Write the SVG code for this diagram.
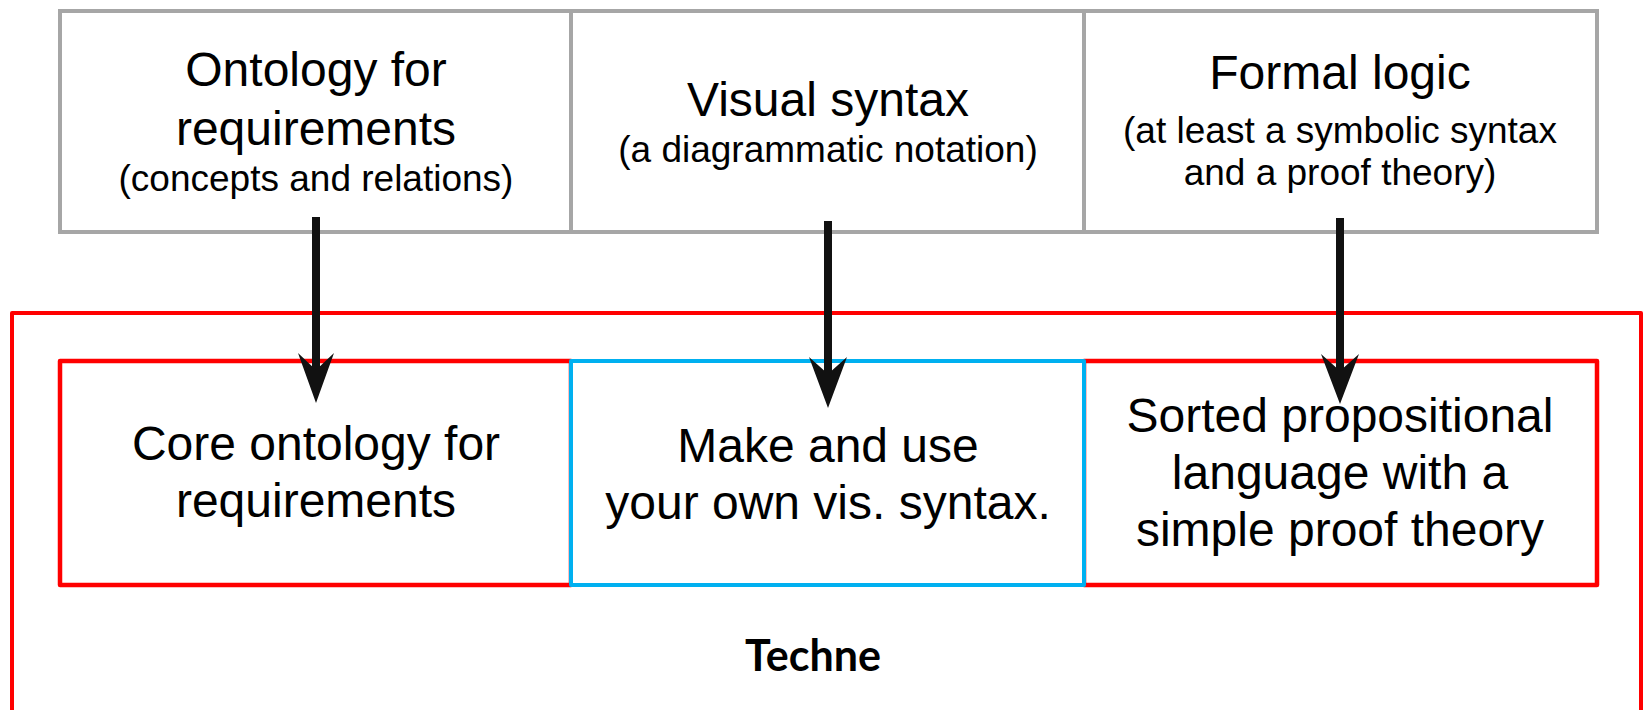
<svg xmlns="http://www.w3.org/2000/svg" width="1643" height="710" viewBox="0 0 1643 710">
  <defs>
    <style>
      .grey { fill: #ffffff; stroke: #a6a6a6; stroke-width: 4; }
      .red { fill: #ffffff; stroke: #ff0000; stroke-width: 4.5; stroke-linejoin: round; }
      .blue { fill: #ffffff; stroke: #00b0f0; stroke-width: 4; stroke-linejoin: round; }
      .big { font-family: "Liberation Sans", Arial, sans-serif; font-size: 48px; fill: #000; text-anchor: middle; }
      .small { font-family: "Liberation Sans", Arial, sans-serif; font-size: 37px; fill: #000; text-anchor: middle; }
      .label { font-family: Lato, "Open Sans", sans-serif; font-weight: bold; font-size: 43px; fill: #000; text-anchor: middle; }
      .shaft { stroke: #111111; stroke-width: 8; fill: none; }
      .head { fill: #111111; }
    </style>
  </defs>

  <!-- Techne frame (open at the bottom edge of the canvas) -->
  <g id="techne">
    <path d="M12,720 L12,313 L1641,313 L1641,720" fill="none" stroke="#ff0000" stroke-width="4" stroke-linejoin="round"/>
    <text class="label" x="813" y="671">Techne</text>
  </g>

  <!-- Upper row: source disciplines -->
  <g id="ontology">
    <rect class="grey" x="60" y="11" width="511" height="221"/>
    <text class="big" x="316" y="86">Ontology for</text>
    <text class="big" x="316" y="145">requirements</text>
    <text class="small" x="316" y="191">(concepts and relations)</text>
  </g>
  <g id="visual-syntax">
    <rect class="grey" x="571" y="11" width="513" height="221"/>
    <text class="big" x="828" y="116">Visual syntax</text>
    <text class="small" x="828" y="162">(a diagrammatic notation)</text>
  </g>
  <g id="formal-logic">
    <rect class="grey" x="1084" y="11" width="513" height="221"/>
    <text class="big" x="1340" y="89">Formal logic</text>
    <text class="small" x="1340" y="143">(at least a symbolic syntax</text>
    <text class="small" x="1340" y="185">and a proof theory)</text>
  </g>

  <!-- Lower row: Techne components -->
  <g id="core-ontology">
    <rect class="red" x="60" y="361" width="511" height="224"/>
    <text class="big" x="316" y="460">Core ontology for</text>
    <text class="big" x="316" y="517">requirements</text>
  </g>
  <g id="propositional">
    <rect class="red" x="1084" y="361" width="513" height="224"/>
    <text class="big" x="1340" y="432">Sorted propositional</text>
    <text class="big" x="1340" y="489">language with a</text>
    <text class="big" x="1340" y="546">simple proof theory</text>
  </g>
  <g id="own-syntax">
    <rect class="blue" x="571" y="361" width="513" height="224"/>
    <text class="big" x="828" y="462">Make and use</text>
    <text class="big" x="828" y="519">your own vis. syntax.</text>
  </g>

  <!-- Connectors -->
  <g id="connectors">
    <line class="shaft" x1="316" y1="217" x2="316" y2="380"/>
    <path class="head" d="M316,403 L298,353 L316,370 L334,353 Z"/>
    <line class="shaft" x1="828" y1="221" x2="828" y2="385"/>
    <path class="head" d="M828,408 L809,357 L828,374 L847,357 Z"/>
    <line class="shaft" x1="1340" y1="218" x2="1340" y2="381"/>
    <path class="head" d="M1340,404 L1321,354 L1340,371 L1359,354 Z"/>
  </g>
</svg>
